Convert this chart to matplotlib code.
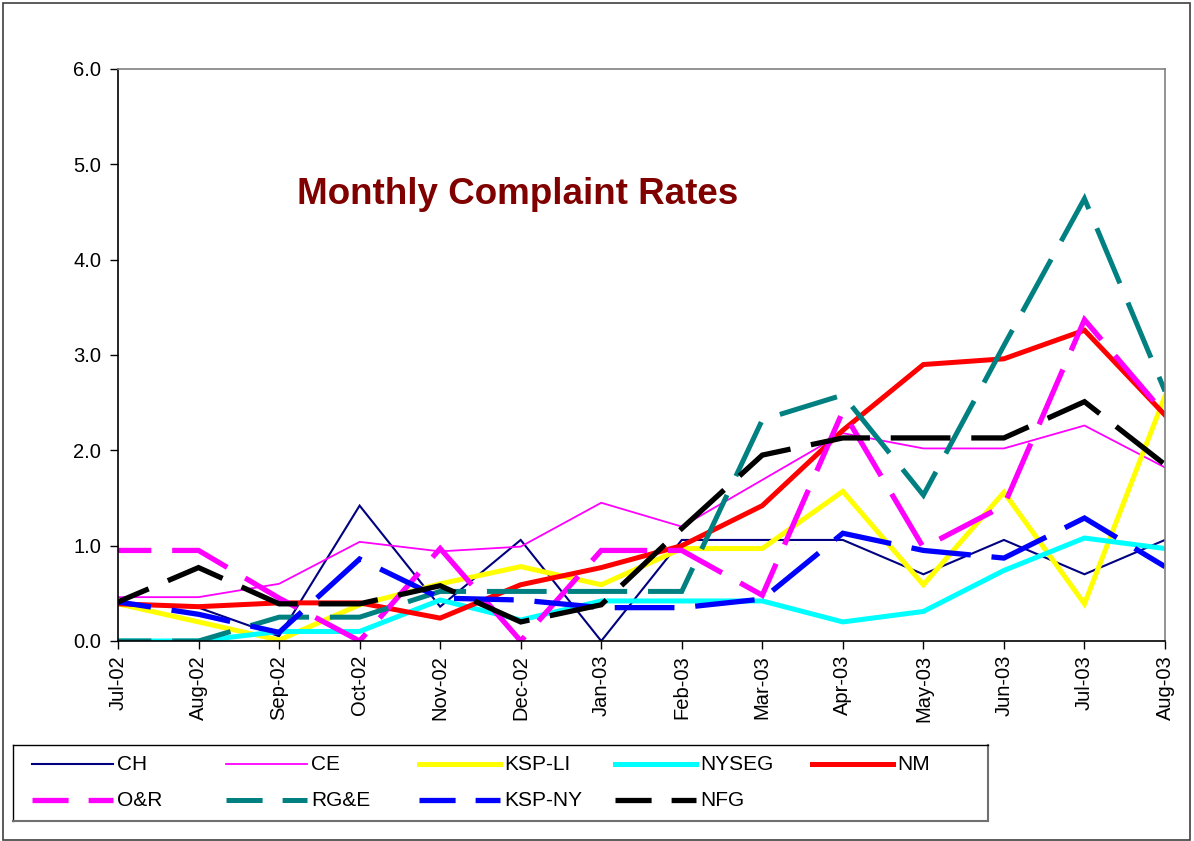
import matplotlib
matplotlib.use("Agg")
import matplotlib.pyplot as plt
from matplotlib.patches import Rectangle
from matplotlib.lines import Line2D

plt.rcParams['font.family'] = ['Liberation Sans', 'DejaVu Sans']
plt.rcParams['lines.scale_dashes'] = False

months = ["Jul-02", "Aug-02", "Sep-02", "Oct-02", "Nov-02", "Dec-02", "Jan-03",
          "Feb-03", "Mar-03", "Apr-03", "May-03", "Jun-03", "Jul-03", "Aug-03"]

ch     = [0.40, 0.35, 0.05, 1.42, 0.36, 1.06, 0.00, 1.06, 1.06, 1.06, 0.70, 1.06, 0.70, 1.06]
ce     = [0.46, 0.46, 0.60, 1.04, 0.94, 0.99, 1.45, 1.20, 1.69, 2.18, 2.02, 2.02, 2.26, 1.82]
ksp_li = [0.39, 0.20, 0.01, 0.38, 0.60, 0.78, 0.59, 0.97, 0.97, 1.57, 0.59, 1.56, 0.39, 2.57]
nyseg  = [0.00, 0.00, 0.10, 0.10, 0.43, 0.22, 0.42, 0.42, 0.42, 0.20, 0.31, 0.74, 1.08, 0.97]
nm     = [0.39, 0.36, 0.40, 0.40, 0.24, 0.59, 0.77, 1.00, 1.42, 2.21, 2.90, 2.96, 3.26, 2.37]
o_r    = [0.95, 0.95, 0.45, 0.00, 0.97, 0.00, 0.95, 0.95, 0.48, 2.41, 0.98, 1.42, 3.37, 2.38]
rge    = [0.00, 0.00, 0.25, 0.25, 0.52, 0.52, 0.52, 0.52, 2.32, 2.58, 1.53, 3.10, 4.64, 2.62]
ksp_ny = [0.41, 0.28, 0.09, 0.86, 0.45, 0.43, 0.35, 0.35, 0.44, 1.13, 0.95, 0.87, 1.29, 0.78]
nfg    = [0.41, 0.77, 0.39, 0.39, 0.58, 0.20, 0.38, 1.18, 1.95, 2.13, 2.13, 2.13, 2.51, 1.85]

names = ["CH", "CE", "KSP-LI", "NYSEG", "NM", "O&R", "RG&E", "KSP-NY", "NFG"]
data = [ch, ce, ksp_li, nyseg, nm, o_r, rge, ksp_ny, nfg]
colors = ["#000080", "#FF00FF", "#FFFF00", "#00FFFF", "#FF0000",
          "#FF00FF", "#008080", "#0000FF", "#000000"]
widths = [1.5, 1.3, 3.6, 3.6, 3.6, 3.8, 3.6, 3.8, 3.8]
dashed = [False, False, False, False, False, True, True, True, True]

DASH = (19, (43, 15))

fig = plt.figure(figsize=(11.94, 8.41), dpi=100)
ax = fig.add_axes([118/1194, 1-641/841, (1165-118)/1194, (641-69)/841])

x = list(range(len(months)))
for vals, c, w, d in zip(data, colors, widths, dashed):
    ax.plot(x, vals, color=c, lw=w, linestyle=DASH if d else '-',
            solid_joinstyle='miter', dash_joinstyle='miter', dash_capstyle='butt')

ax.set_xlim(0, len(months)-1)
ax.set_ylim(0, 6)
ax.set_yticks([0, 1, 2, 3, 4, 5, 6])
ax.set_yticklabels([f"{v:.1f}" for v in [0, 1, 2, 3, 4, 5, 6]])
ax.set_xticks(x)
ax.set_xticklabels(months, rotation=90)
ax.tick_params(axis='both', direction='out', length=6, width=1, labelsize=14.5, colors='black')
ax.tick_params(axis='y', pad=6)
ax.tick_params(axis='x', pad=4)
for s in ['left', 'bottom']:
    ax.spines[s].set_color('black')
    ax.spines[s].set_linewidth(1.2)
for s in ['top', 'right']:
    ax.spines[s].set_color('#808080')
    ax.spines[s].set_linewidth(1.2)

fig.text(518/1194, 1-194/841, "Monthly Complaint Rates", color="#800000",
         fontsize=26.5, fontweight='bold', ha='center', va='center')

# legend box
lx0, lx1, ly0, ly1 = 13, 988, 745, 821
lax = fig.add_axes([lx0/1194, 1-ly1/841, (lx1-lx0)/1194, (ly1-ly0)/841])
lax.set_xlim(lx0, lx1)
lax.set_ylim(ly1, ly0)
lax.set_xticks([]); lax.set_yticks([])
for s in lax.spines.values():
    s.set_color('black'); s.set_linewidth(1.0)
lax.spines['bottom'].set_color('#707070'); lax.spines['bottom'].set_linewidth(1.5)
lax.spines['right'].set_color('#707070'); lax.spines['right'].set_linewidth(1.5)
col_x = [32, 226, 419, 615, 812]
row_y = [764, 800]
for i, (n, c, w, d) in enumerate(zip(names, colors, widths, dashed)):
    r, k = divmod(i, 5)
    hx = col_x[k]
    yy = row_y[r]
    lax.add_line(Line2D([hx, hx+81], [yy, yy], color=c, lw=w,
                        linestyle=(0, (26, 14.4)) if d else '-', dash_capstyle='butt'))
    lax.text(hx+85, yy + 1, n, fontsize=15, va='center', ha='left')

fig.patches.append(Rectangle((3/1194, 1/841), 1187/1194, 837/841, transform=fig.transFigure,
                             fill=False, edgecolor='#404040', lw=1.2))

fig.savefig("out.png", dpi=100)
